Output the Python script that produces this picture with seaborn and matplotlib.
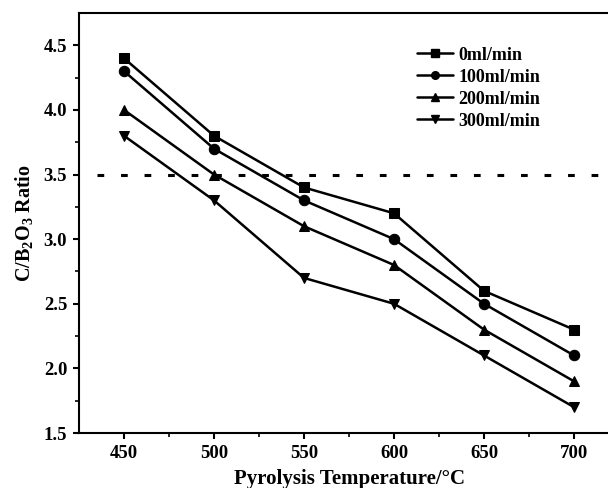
import matplotlib
matplotlib.use("Agg")
import matplotlib.pyplot as plt
import seaborn as sns
import pandas as pd
from matplotlib.lines import Line2D

temps = [450, 500, 550, 600, 650, 700]
series_names = ["0ml/min", "100ml/min", "200ml/min", "300ml/min"]
v0 = [4.4, 3.8, 3.4, 3.2, 2.6, 2.3]
v100 = [4.3, 3.7, 3.3, 3.0, 2.5, 2.1]
v200 = [4.0, 3.5, 3.1, 2.8, 2.3, 1.9]
v300 = [3.8, 3.3, 2.7, 2.5, 2.1, 1.7]
threshold = 3.5

sns.set_style("ticks")
plt.rcParams['font.family'] = ['Liberation Serif', 'DejaVu Serif']
plt.rcParams['font.weight'] = 'bold'
plt.rcParams['text.color'] = 'black'
plt.rcParams['axes.labelcolor'] = 'black'
plt.rcParams['xtick.color'] = 'black'
plt.rcParams['ytick.color'] = 'black'
plt.rcParams['mathtext.fontset'] = 'custom'
plt.rcParams['mathtext.rm'] = 'Liberation Serif:bold'
plt.rcParams['mathtext.it'] = 'Liberation Serif:bold'
plt.rcParams['mathtext.bf'] = 'Liberation Serif:bold'

rows = []
for name, vals in zip(series_names, [v0, v100, v200, v300]):
    for t, v in zip(temps, vals):
        rows.append({"T": t, "ratio": v, "series": name})
df = pd.DataFrame(rows)

fig = plt.figure(figsize=(6.08, 4.88), dpi=100)
ax = fig.add_axes([79/608, 55/488, 540/608, 420/488])

markers = ['s', 'o', '^', 'v']
sns.lineplot(data=df, x="T", y="ratio", style="series", markers=markers,
             dashes=False, color="black", linewidth=1.8, markersize=7.5,
             markeredgecolor="black", ax=ax, legend=False)

ax.plot([435, 725], [threshold, threshold], color="black", linewidth=2.2,
        linestyle=(0, (2.2, 5.5)))

ax.set_xlim(425, 725)
ax.set_ylim(1.5, 4.75)
ax.set_xticks(temps)
ax.set_xticks([475, 525, 575, 625, 675], minor=True)
ax.set_yticks([1.5, 2.0, 2.5, 3.0, 3.5, 4.0, 4.5])
ax.set_yticks([1.75, 2.25, 2.75, 3.25, 3.75, 4.25], minor=True)
ax.set_yticklabels(["1.5", "2.0", "2.5", "3.0", "3.5", "4.0", "4.5"])
ax.tick_params(axis='both', which='major', direction='out', length=4.5, width=1.5,
               labelsize=13.5, colors='black', pad=4)
ax.tick_params(axis='both', which='minor', direction='out', length=3, width=1.2)
for s in ax.spines.values():
    s.set_linewidth(1.5)
    s.set_color('black')

ax.set_xlabel("Pyrolysis Temperature/°C", fontsize=15, fontweight='bold', labelpad=5)
ax.set_ylabel("C/B$_2$O$_3$ Ratio", fontsize=14.5, fontweight='bold', labelpad=6)

handles = [Line2D([], [], color='black', marker=m, linewidth=1.8, markersize=5.5)
           for m in markers]
leg = ax.legend(handles, series_names, loc='upper left', bbox_to_anchor=(0.625, 0.92),
                frameon=False, fontsize=13, handlelength=2.0, handletextpad=0.3,
                labelspacing=0.28, borderpad=0, borderaxespad=0)
for t in leg.get_texts():
    t.set_fontweight('bold')

fig.savefig("out.png", dpi=100)
